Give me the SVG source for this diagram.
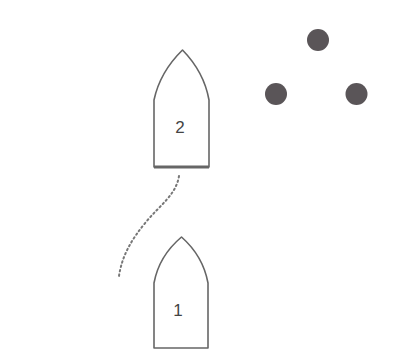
<svg xmlns="http://www.w3.org/2000/svg" width="413" height="363" viewBox="0 0 413 363">
<style>
.boat{fill:#fff;stroke:#666;stroke-width:1.6;stroke-linejoin:round}
.base{stroke:#666;stroke-width:3;fill:none}
.lbl{font-family:"Liberation Sans",Arial,sans-serif;font-size:17px;fill:#444;text-anchor:middle}
.buoy{fill:#5a5558}
.trail{fill:none;stroke:#777;stroke-width:2;stroke-dasharray:1.5 3;stroke-linecap:round}
</style>
<rect width="413" height="363" fill="#fff"/>
<g id="connectors">
<path class="trail" d="M179,176 C176,195 160,205 146,222 C131,240 122,256 119,276"/>
</g>
<g id="boat2">
<path class="boat" d="M154,167 L154,100 Q160,72 182.5,50 Q204,72 209,100 L209,167 Z"/>
<line class="base" x1="154" y1="167" x2="209" y2="167"/>
<text class="lbl" x="180" y="133">2</text>
</g>
<g id="boat1">
<path class="boat" d="M154,348 L154,283 Q159,256 181.5,237 Q203,256 208,283 L208,348 Z"/>
<text class="lbl" x="178" y="316">1</text>
</g>
<g id="buoy-top"><circle class="buoy" cx="318" cy="40" r="11"/></g>
<g id="buoy-left"><circle class="buoy" cx="276" cy="94" r="11"/></g>
<g id="buoy-right"><circle class="buoy" cx="356.5" cy="94" r="11"/></g>
</svg>
